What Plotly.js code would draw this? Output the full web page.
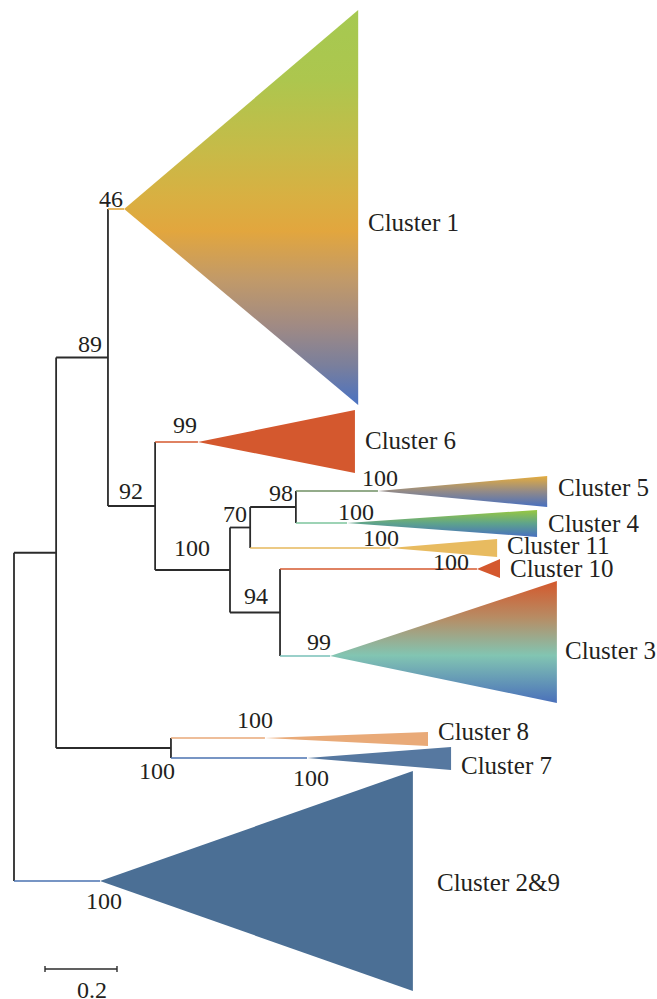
<!DOCTYPE html>
<html><head><meta charset="utf-8">
<script src="https://cdn.plot.ly/plotly-3.0.1.min.js"></script>
<style>html,body{margin:0;padding:0;background:#fff;}#chart{width:657px;height:999px;}</style>
</head><body><div id="chart"></div>
<script>
// ---------- DATA ----------
// Collapsed clades: horizontal = branch length (substitutions/site), vertical = leaf row position
const clusterNames   = ['Cluster 1','Cluster 6','Cluster 5','Cluster 4','Cluster 11','Cluster 10','Cluster 3','Cluster 8','Cluster 7','Cluster 2&9'];
const clusterParent  = ['B','C','F','F','E','G','G','H','H','root'];
const clusterApexX   = [0.306,0.511,1.011,0.925,1.044,1.286,0.878,0.697,0.814,0.239];
const clusterTipX    = [0.956,0.947,1.481,1.453,1.342,1.350,1.508,1.150,1.214,1.108];
const clusterRow     = [209,442,491,523,548,569,656,738,758,881];
const clusterTop     = [10,410,476,510,539,559,581,732,747,771];
const clusterBottom  = [405,473,507,537,557,578,703,746,770,991];
const clusterSupport = [46,99,100,100,100,100,99,100,100,100];

// Internal nodes
const nodeNames   = ['root','A','B','C','D','E','F','G','H'];
const nodeParent  = [null,'root','A','B','C','D','E','D','A'];
const nodeX       = [0,0.117,0.261,0.392,0.600,0.656,0.783,0.739,0.436];
const nodeSupport = [null,null,89,92,100,70,98,94,100];

const scaleBarLength = 0.2;
const scaleBarLabel = '0.2';

// ---------- STYLE ----------
const FONT = 'Liberation Serif';
const TXT = '#231f20';
const clusterFill = [
  [[0,'#a5c951'],[0.18,'#adc64e'],[0.35,'#c6bb48'],[0.47,'#d8b042'],[0.56,'#e2a63e'],[0.68,'#c29a68'],[0.8,'#a08a84'],[0.9,'#7a7f9c'],[1,'#4a72c2']],
  '#d4582e',
  [[0,'#e4ac3e'],[0.5,'#928a88'],[1,'#476fc0']],
  [[0,'#98c83f'],[0.5,'#5ea38c'],[1,'#476fc0']],
  '#e8bb60',
  '#d4582e',
  [[0,'#d4582c'],[0.3,'#b78c64'],[0.61,'#82c5b2'],[1,'#4a70ba']],
  '#e9aa78',
  '#5678a0',
  '#4b6f95'
];
const stemColor = ['#e0a840','#d4582e','#6f8f63','#7cc49c','#e6b85c','#d4582e','#78c0b8','#e8a878','#4a72b0','#4a72b0'];
const nameShift    = [[8,-13],[8,2],[9,4],[9,0],[8,3],[8,1],[6,6],[8,7],[8,-7],[22,-1]];
const supShift     = [[-13,10],[-13,17],[2,13],[9,11],[-9,10],[-26,7],[-11,14],[-10,18],[4,-20],[4,-20]];
const nodeSupShift = {B:[-18,14],C:[-24,15],D:[-38,22],E:[-15,14],F:[-15,14],G:[-24,17],H:[-14,-23]};

// ---------- LAYOUT OF TREE ----------
const nodeIdx = n => nodeNames.indexOf(n);
const nodeY = {}, nodeSpan = {};
function layoutNode(name){
  const ys = [];
  clusterParent.forEach((p,i)=>{ if(p===name) ys.push(clusterRow[i]); });
  nodeParent.forEach((p,i)=>{ if(p===name) ys.push(layoutNode(nodeNames[i])); });
  const lo = Math.min(...ys), hi = Math.max(...ys);
  nodeSpan[name] = [lo,hi];
  nodeY[name] = (lo+hi)/2;
  return nodeY[name];
}
layoutNode('root');

const traces = [];
// black tree skeleton
const bx = [], by = [];
nodeNames.forEach((n,i)=>{
  bx.push(nodeX[i], nodeX[i], null); by.push(nodeSpan[n][0], nodeSpan[n][1], null);
  if(nodeParent[i]){ bx.push(nodeX[nodeIdx(nodeParent[i])], nodeX[i], null); by.push(nodeY[n], nodeY[n], null); }
});
traces.push({type:'scatter',mode:'lines',x:bx,y:by,line:{color:'#2b2b2b',width:1.8},hoverinfo:'skip',showlegend:false});

// clades
clusterNames.forEach((c,i)=>{
  const px = nodeX[nodeIdx(clusterParent[i])];
  traces.push({type:'scatter',mode:'lines',x:[px,clusterApexX[i]],y:[clusterRow[i],clusterRow[i]],
    line:{color:stemColor[i],width:1.6},hoverinfo:'skip',showlegend:false});
  const t = {type:'scatter',mode:'lines',
    x:[clusterApexX[i],clusterTipX[i],clusterTipX[i],clusterApexX[i]],
    y:[clusterRow[i],clusterTop[i],clusterBottom[i],clusterRow[i]],
    fill:'toself',line:{width:0,color:'rgba(0,0,0,0)'},hoverinfo:'skip',showlegend:false};
  if(Array.isArray(clusterFill[i])){
    t.fillgradient = {type:'vertical',start:clusterTop[i],stop:clusterBottom[i],colorscale:clusterFill[i]};
    t.fillcolor = clusterFill[i][Math.floor(clusterFill[i].length/2)][1];
  } else t.fillcolor = clusterFill[i];
  traces.push(t);
});

const annotations = [];
clusterNames.forEach((c,i)=>{
  annotations.push({x:clusterTipX[i],y:clusterRow[i],xref:'x',yref:'y',text:c,showarrow:false,
    xanchor:'left',yanchor:'middle',xshift:nameShift[i][0],yshift:nameShift[i][1],
    font:{family:FONT,size:25,color:TXT}});
  annotations.push({x:clusterApexX[i],y:clusterRow[i],xref:'x',yref:'y',text:String(clusterSupport[i]),showarrow:false,
    xanchor:'center',yanchor:'middle',xshift:supShift[i][0],yshift:supShift[i][1],
    font:{family:FONT,size:24,color:TXT}});
});
nodeNames.forEach((n,i)=>{
  if(nodeSupport[i]==null) return;
  const s = nodeSupShift[n];
  annotations.push({x:nodeX[i],y:nodeY[n],xref:'x',yref:'y',text:String(nodeSupport[i]),showarrow:false,
    xanchor:'center',yanchor:'middle',xshift:s[0],yshift:s[1],font:{family:FONT,size:24,color:TXT}});
});

// scale bar
const sbX0 = 0.0861, sbY = 969;
const shapes = [
  {type:'line',xref:'x',yref:'y',x0:sbX0,x1:sbX0+scaleBarLength,y0:sbY,y1:sbY,line:{color:'#2b2b2b',width:1.6}},
  {type:'line',xref:'x',yref:'y',x0:sbX0,x1:sbX0,y0:sbY-3,y1:sbY+3,line:{color:'#2b2b2b',width:1.4}},
  {type:'line',xref:'x',yref:'y',x0:sbX0+scaleBarLength,x1:sbX0+scaleBarLength,y0:sbY-3,y1:sbY+3,line:{color:'#2b2b2b',width:1.4}}
];
annotations.push({x:sbX0+scaleBarLength/2,y:sbY,xref:'x',yref:'y',text:scaleBarLabel,showarrow:false,
  xanchor:'center',yanchor:'middle',xshift:11,yshift:-21,font:{family:FONT,size:24,color:TXT}});

const layout = {
  width:657,height:999,margin:{l:0,r:0,t:0,b:0},
  paper_bgcolor:'#ffffff',plot_bgcolor:'#ffffff',
  xaxis:{range:[-14/360,643/360],visible:false,fixedrange:true},
  yaxis:{range:[999,0],visible:false,fixedrange:true},
  showlegend:false,annotations:annotations,shapes:shapes
};
Plotly.newPlot('chart',traces,layout,{staticPlot:true,displayModeBar:false});
</script>
</body></html>
